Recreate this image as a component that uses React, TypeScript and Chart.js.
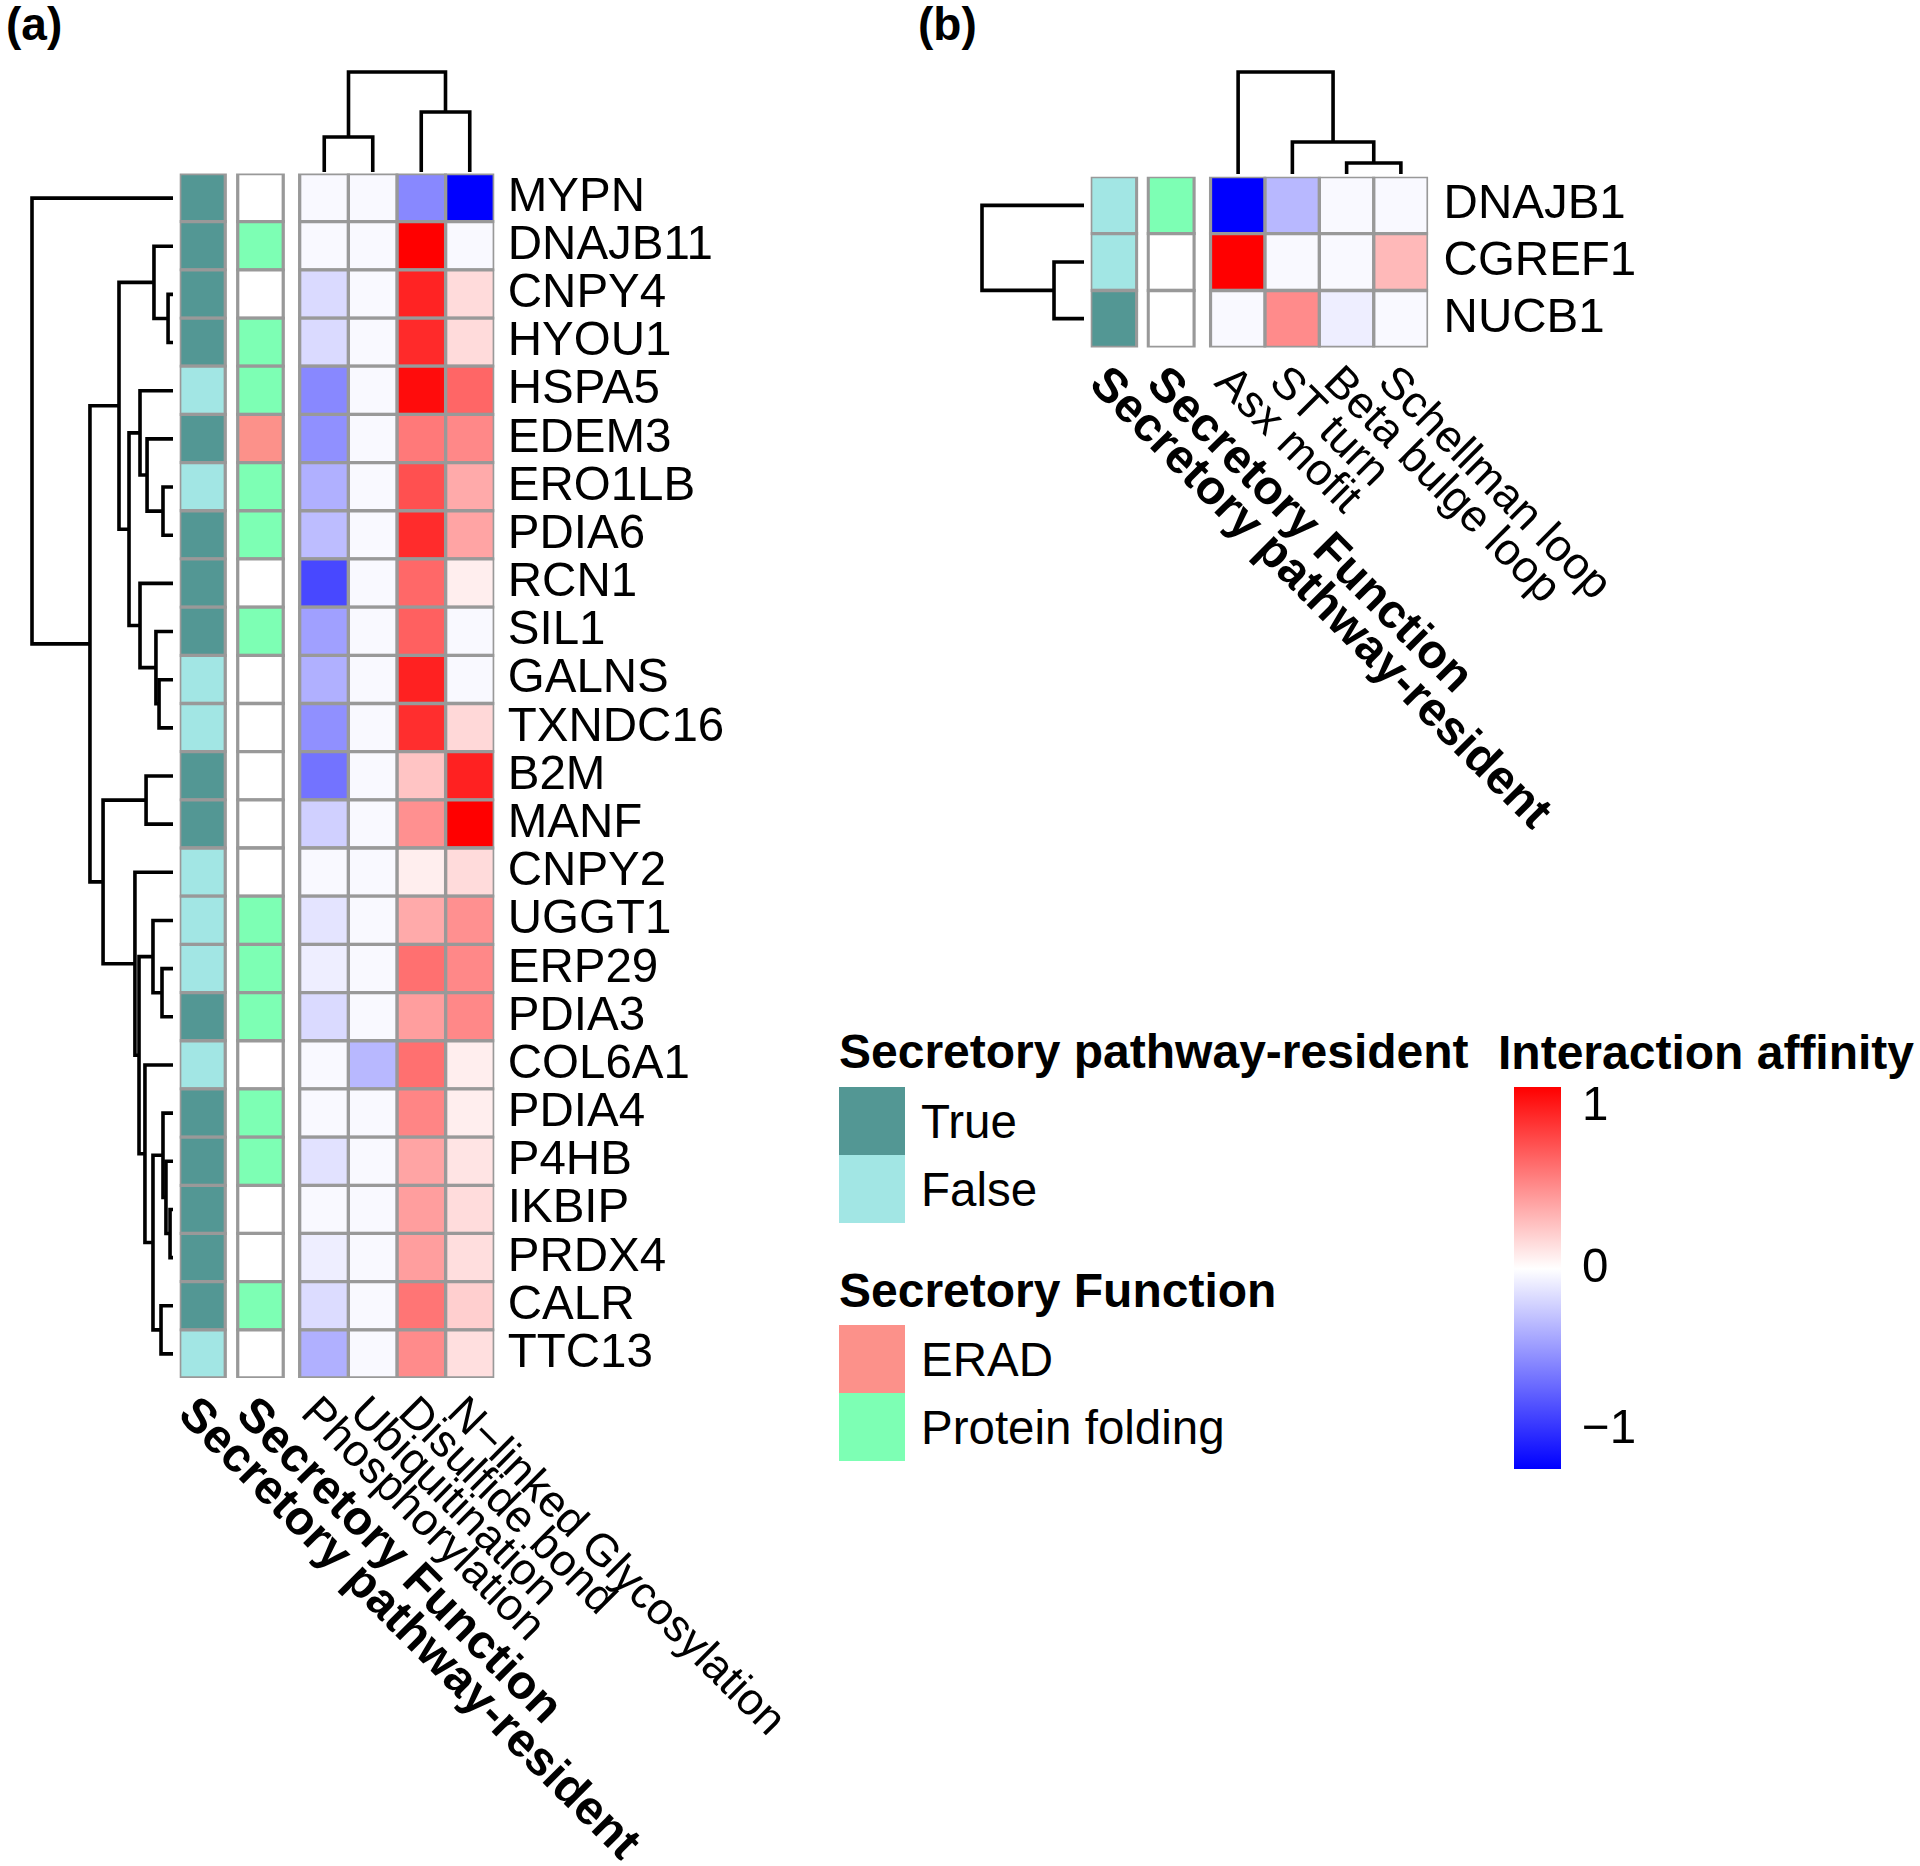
import React, { useEffect, useRef } from 'react';
import { Chart, registerables } from 'chart.js';

Chart.register(...registerables);

const FONT = "'Liberation Sans', Arial, Helvetica, sans-serif";
Chart.defaults.font.family = FONT;
Chart.defaults.color = '#000';

// ---------------- Panel (a) data ----------------
const genesA = ['MYPN', 'DNAJB11', 'CNPY4', 'HYOU1', 'HSPA5', 'EDEM3', 'ERO1LB', 'PDIA6', 'RCN1', 'SIL1', 'GALNS', 'TXNDC16', 'B2M', 'MANF', 'CNPY2', 'UGGT1', 'ERP29', 'PDIA3', 'COL6A1', 'PDIA4', 'P4HB', 'IKBIP', 'PRDX4', 'CALR', 'TTC13'];
const modificationsA = ['Phosphorylation', 'Ubiquitination', 'Disulfide bond', 'N\u2212linked Glycosylation'];
const phosphorylationA = [-0.03, -0.03, -0.18, -0.18, -0.58, -0.54, -0.385, -0.32, -0.89, -0.46, -0.385, -0.54, -0.68, -0.23, -0.03, -0.13, -0.083, -0.18, -0.03, -0.03, -0.14, -0.03, -0.083, -0.17, -0.385];
const ubiquitinationA = [-0.03, -0.03, -0.03, -0.03, -0.03, -0.03, -0.03, -0.03, -0.03, -0.03, -0.03, -0.03, -0.03, -0.03, -0.03, -0.03, -0.03, -0.03, -0.345, -0.03, -0.03, -0.03, -0.03, -0.03, -0.03];
const disulfideA = [-0.58, 1.125, 0.97, 0.94, 1.07, 0.59, 0.77, 0.93, 0.665, 0.7, 0.98, 0.92, 0.26, 0.49, 0.075, 0.375, 0.63, 0.43, 0.63, 0.54, 0.4, 0.43, 0.43, 0.61, 0.51];
const nGlycosylationA = [-1.24, -0.03, 0.16, 0.16, 0.675, 0.525, 0.375, 0.4, 0.075, -0.03, -0.03, 0.17, 0.98, 1.125, 0.16, 0.49, 0.525, 0.525, 0.075, 0.075, 0.12, 0.155, 0.145, 0.21, 0.14];
const residentA = ['True', 'True', 'True', 'True', 'False', 'True', 'False', 'True', 'True', 'True', 'False', 'False', 'True', 'True', 'False', 'False', 'False', 'True', 'False', 'True', 'True', 'True', 'True', 'True', 'False'];
const functionA = ['', 'Protein folding', '', 'Protein folding', 'Protein folding', 'ERAD', 'Protein folding', 'Protein folding', '', 'Protein folding', '', '', '', '', '', 'Protein folding', 'Protein folding', 'Protein folding', '', 'Protein folding', 'Protein folding', '', '', 'Protein folding', ''];
// hclust-style merges (negative = leaf index, positive = earlier merge) and merge heights
const rowMergesA: [number, number][] = [[-3, -4], [-2, 1], [-7, -8], [-6, 3], [-5, 4], [-11, -12], [-10, 6], [-9, 7], [5, 8], [2, 9], [-13, -14], [-17, -18], [-16, 12], [-22, -23], [-21, 14], [-20, 15], [-24, -25], [16, 17], [-19, 18], [13, 19], [-15, 20], [11, 21], [10, 22], [-1, 23]];
const rowHeightsA = [0.035, 0.135, 0.071, 0.184, 0.234, 0.099, 0.121, 0.234, 0.312, 0.383, 0.191, 0.078, 0.142, 0.021, 0.05, 0.071, 0.085, 0.142, 0.199, 0.241, 0.27, 0.496, 0.589, 1.0];
const colMergesA: [number, number][] = [[-1, -2], [-3, -4], [1, 2]];
const colHeightsA = [0.35, 0.6, 1.0];

// ---------------- Panel (b) data ----------------
const genesB = ['DNAJB1', 'CGREF1', 'NUCB1'];
const motifsB = ['Asx mofit', 'ST turn', 'Beta bulge loop', 'Schellman loop'];
const asxMotifB = [-1.24, 1.125, -0.03];
const stTurnB = [-0.345, -0.03, 0.51];
const betaBulgeB = [-0.03, -0.03, -0.083];
const schellmanB = [-0.03, 0.31, -0.03];
const residentB = ['False', 'False', 'True'];
const functionB = ['Protein folding', '', ''];
const rowMergesB: [number, number][] = [[-2, -3], [-1, 1]];
const rowHeightsB = [0.294, 1.0];
const colMergesB: [number, number][] = [[-3, -4], [-2, 1], [-1, 2]];
const colHeightsB = [0.108, 0.314, 1.0];

// ---------------- Legends ----------------
const residentLevels = ['True', 'False'];
const functionLevels = ['ERAD', 'Protein folding'];
const affinityTicks = [-1, 0, 1];

// ---------------- Styles ----------------
const residentColors: Record<string, string> = { True: '#539794', False: '#A2E6E4' };
const functionColors: Record<string, string> = { ERAD: '#FC918A', 'Protein folding': '#7DFFB4' };
const NA_COLOR = '#FFFFFF';
const CELL_BORDER = '#999999';
const DENDRO_LW = 3.6;
const FS = 47.5; // regular text size
const FSB = 48; // bold text size
const FS_COL = 45; // rotated column labels

const allValues = [...phosphorylationA, ...ubiquitinationA, ...disulfideA, ...nGlycosylationA, ...asxMotifB, ...stTurnB, ...betaBulgeB, ...schellmanB];
const COLOR_LO = Math.min(...allValues);
const COLOR_HI = Math.max(...allValues);

function heatColor(v: number): string {
  if (v >= 0) {
    const t = Math.min(1, v / COLOR_HI);
    const c = Math.round(255 * (1 - t));
    return `rgb(255,${c},${c})`;
  }
  const t = Math.min(1, v / COLOR_LO);
  const c = Math.round(255 * (1 - t));
  return `rgb(${c},${c},255)`;
}

type Col = { label?: string; bold?: boolean; width: number; colors?: string[] };
type HeatLayout = {
  canvasLeft: number; canvasTop: number; canvasW: number; canvasH: number;
  areaLeft: number; areaTop: number; unit: number; rowH: number;
  annotW: number; gap1: number; gap2: number; labelPad: number; labelGap: number;
};

const LAYOUT_A: HeatLayout = {
  canvasLeft: 150, canvasTop: 150, canvasW: 680, canvasH: 1716,
  areaLeft: 179.7, areaTop: 173.5, unit: 48.65, rowH: 48.18,
  annotW: 0.937, gap1: 0.255, gap2: 0.337, labelPad: 13.5, labelGap: 12,
};
const LAYOUT_B: HeatLayout = {
  canvasLeft: 1060, canvasTop: 150, canvasW: 860, canvasH: 720,
  areaLeft: 1090.7, areaTop: 176.7, unit: 54.4, rowH: 56.9,
  annotW: 0.846, gap1: 0.21, gap2: 0.30, labelPad: 15.5, labelGap: 12,
};

function buildCols(L: HeatLayout, resident: string[], func: string[], names: string[], matrix: number[][]): Col[] {
  return [
    { label: 'Secretory pathway-resident', bold: true, width: L.annotW, colors: resident.map((v) => residentColors[v] ?? NA_COLOR) },
    { width: L.gap1 },
    { label: 'Secretory Function', bold: true, width: L.annotW, colors: func.map((v) => functionColors[v] ?? NA_COLOR) },
    { width: L.gap2 },
    ...names.map((n, j) => ({ label: n, width: 1, colors: matrix[j].map(heatColor) })),
  ];
}

function heatmapConfig(genes: string[], cols: Col[], L: HeatLayout): any {
  const total = cols.reduce((s, c) => s + c.width, 0);
  const areaW = total * L.unit;
  const areaH = genes.length * L.rowH;
  const padLeft = L.areaLeft - L.canvasLeft;
  const padTop = L.areaTop - L.canvasTop;
  const padBottom = L.canvasTop + L.canvasH - (L.areaTop + areaH);
  const axisW = L.canvasW - padLeft - areaW;
  const starts: number[] = [];
  let acc = 0;
  cols.forEach((c) => { starts.push(acc); acc += c.width; });

  const labelPlugin = {
    id: 'columnLabels',
    afterDraw(chart: any) {
      const ctx = chart.ctx;
      const xs = chart.scales.x;
      const y0 = chart.chartArea.bottom + L.labelGap;
      cols.forEach((c, i) => {
        if (!c.label) return;
        const x = xs.getPixelForValue(starts[i] + c.width / 2);
        ctx.save();
        ctx.translate(x, y0);
        ctx.rotate(Math.PI / 4);
        ctx.font = `${c.bold ? 'bold ' : ''}${c.bold ? FSB : FS_COL}px ${FONT}`;
        ctx.fillStyle = '#000';
        ctx.textAlign = 'left';
        ctx.textBaseline = 'top';
        ctx.fillText(c.label, 0, 0);
        ctx.restore();
      });
    },
  };

  return {
    type: 'bar',
    data: {
      labels: genes,
      datasets: cols.map((c) =>
        c.colors
          ? {
              data: genes.map(() => c.width),
              backgroundColor: c.colors,
              borderColor: CELL_BORDER,
              borderWidth: 3.3,
              inflateAmount: 1.65,
              borderSkipped: false,
              categoryPercentage: 1,
              barPercentage: 1,
            }
          : {
              data: genes.map(() => c.width),
              backgroundColor: 'rgba(0,0,0,0)',
              borderWidth: 0,
              inflateAmount: 0,
              categoryPercentage: 1,
              barPercentage: 1,
            }
      ),
    },
    options: {
      indexAxis: 'y',
      animation: false,
      responsive: false,
      events: [],
      layout: { padding: { left: padLeft, top: padTop, bottom: padBottom, right: 0 } },
      plugins: { legend: { display: false }, tooltip: { enabled: false } },
      scales: {
        x: { type: 'linear', stacked: true, min: 0, max: total, display: false },
        y: {
          type: 'category',
          stacked: true,
          position: 'right',
          grid: { display: false, drawTicks: false },
          border: { display: false },
          ticks: { color: '#000', font: { size: FS, family: FONT }, padding: L.labelPad, autoSkip: false },
          afterFit: (s: any) => { s.width = axisW; s.paddingTop = 0; s.paddingBottom = 0; },
        },
      },
    },
    plugins: [labelPlugin],
  };
}

type Area = { left: number; right: number; top: number; bottom: number };
const DENDRO_MARGIN = 10;

function dendroSegments(merges: [number, number][], heights: number[]) {
  const pos: number[] = [];
  const hts: number[] = [];
  const segs: [number, number][][] = [];
  merges.forEach(([a, b], i) => {
    const pa = a < 0 ? -a : pos[a - 1];
    const ha = a < 0 ? 0 : hts[a - 1];
    const pb = b < 0 ? -b : pos[b - 1];
    const hb = b < 0 ? 0 : hts[b - 1];
    const h = heights[i];
    segs.push([[pa, ha], [pa, h], [pb, h], [pb, hb]]);
    pos[i] = (pa + pb) / 2;
    hts[i] = h;
  });
  return segs;
}

function dendroConfig(merges: [number, number][], heights: number[], nLeaves: number, orient: 'row' | 'col'): any {
  const segs = dendroSegments(merges, heights);
  const hMax = Math.max(...heights);
  const isRow = orient === 'row';
  return {
    type: 'scatter',
    data: {
      datasets: segs.map((s) => ({
        data: s.map(([p, h]) => (isRow ? { x: h, y: p } : { x: p, y: h })),
        showLine: true,
        borderColor: '#000',
        borderWidth: DENDRO_LW,
        pointRadius: 0,
        tension: 0,
        clip: false,
        borderJoinStyle: 'miter',
      })),
    },
    options: {
      animation: false,
      responsive: false,
      events: [],
      layout: { padding: DENDRO_MARGIN },
      plugins: { legend: { display: false }, tooltip: { enabled: false } },
      scales: isRow
        ? {
            x: { type: 'linear', min: 0, max: hMax, reverse: true, display: false },
            y: { type: 'linear', min: 0.5, max: nLeaves + 0.5, reverse: true, display: false },
          }
        : {
            x: { type: 'linear', min: 0.5, max: nLeaves + 0.5, display: false },
            y: { type: 'linear', min: 0, max: hMax, display: false },
          },
    },
  };
}

function colorbarConfig(area: Area, canvas: { left: number; top: number; width: number; height: number }): any {
  const axisW = canvas.width - (area.left - canvas.left) - (area.right - area.left);
  return {
    type: 'bar',
    data: {
      labels: ['Interaction affinity'],
      datasets: [
        {
          data: [[COLOR_LO, COLOR_HI]],
          borderWidth: 0,
          inflateAmount: 0,
          categoryPercentage: 1,
          barPercentage: 1,
          backgroundColor: (ctx: any) => {
            const chart = ctx.chart;
            const ys = chart.scales?.y;
            if (!chart.chartArea || !ys) return 'rgba(0,0,0,0)';
            const yTop = ys.getPixelForValue(COLOR_HI);
            const yBot = ys.getPixelForValue(COLOR_LO);
            const g = chart.ctx.createLinearGradient(0, yTop, 0, yBot);
            g.addColorStop(0, heatColor(COLOR_HI));
            g.addColorStop(COLOR_HI / (COLOR_HI - COLOR_LO), heatColor(0));
            g.addColorStop(1, heatColor(COLOR_LO));
            return g;
          },
        },
      ],
    },
    options: {
      animation: false,
      responsive: false,
      events: [],
      layout: {
        padding: {
          left: area.left - canvas.left,
          top: area.top - canvas.top,
          bottom: canvas.top + canvas.height - area.bottom,
          right: 0,
        },
      },
      plugins: { legend: { display: false }, tooltip: { enabled: false } },
      scales: {
        x: { display: false },
        y: {
          type: 'linear',
          position: 'right',
          min: COLOR_LO,
          max: COLOR_HI,
          grid: { display: false, drawTicks: false },
          border: { display: false },
          afterBuildTicks: (s: any) => { s.ticks = affinityTicks.map((v) => ({ value: v })); },
          ticks: {
            color: '#000',
            font: { size: FS, family: FONT },
            padding: 21,
            callback: (v: any) => (Number(v) < 0 ? '\u2212' + Math.abs(Number(v)) : String(v)),
          },
          afterFit: (s: any) => { s.width = axisW; s.paddingTop = 0; s.paddingBottom = 0; },
        },
      },
    },
  };
}

function ChartBox({ left, top, width, height, make }: { left: number; top: number; width: number; height: number; make: () => any }) {
  const ref = useRef<HTMLCanvasElement>(null);
  useEffect(() => {
    if (!ref.current) return;
    const chart = new Chart(ref.current, make());
    return () => chart.destroy();
  }, []);
  return (
    <canvas
      ref={ref}
      width={width}
      height={height}
      style={{ position: 'absolute', left, top, width, height, display: 'block' }}
    />
  );
}

function DendroBox({ area, merges, heights, nLeaves, orient }: { area: Area; merges: [number, number][]; heights: number[]; nLeaves: number; orient: 'row' | 'col' }) {
  const m = DENDRO_MARGIN;
  return (
    <ChartBox
      left={area.left - m}
      top={area.top - m}
      width={area.right - area.left + 2 * m}
      height={area.bottom - area.top + 2 * m}
      make={() => dendroConfig(merges, heights, nLeaves, orient)}
    />
  );
}

// Text positioned by its baseline
function Txt({ x, baseline, size, bold, children }: { x: number; baseline: number; size: number; bold?: boolean; children: React.ReactNode }) {
  const top = baseline - (size * 0.905 + (size - size * 1.117) / 2);
  return (
    <div
      style={{
        position: 'absolute',
        left: x,
        top,
        fontFamily: FONT,
        fontSize: size,
        lineHeight: `${size}px`,
        fontWeight: bold ? 'bold' : 'normal',
        whiteSpace: 'nowrap',
        color: '#000',
      }}
    >
      {children}
    </div>
  );
}

function Swatch({ x, y, w, h, color }: { x: number; y: number; w: number; h: number; color: string }) {
  return <div style={{ position: 'absolute', left: x, top: y, width: w, height: h, background: color }} />;
}

export default function App() {
  const colsA = buildCols(LAYOUT_A, residentA, functionA, modificationsA, [phosphorylationA, ubiquitinationA, disulfideA, nGlycosylationA]);
  const colsB = buildCols(LAYOUT_B, residentB, functionB, motifsB, [asxMotifB, stTurnB, betaBulgeB, schellmanB]);

  const hmA = { left: 299.7, right: 494.3 };
  const hmB = { left: 1210.7, right: 1428.3 };
  const rowsA = { top: LAYOUT_A.areaTop, bottom: LAYOUT_A.areaTop + genesA.length * LAYOUT_A.rowH };
  const rowsB = { top: LAYOUT_B.areaTop, bottom: LAYOUT_B.areaTop + genesB.length * LAYOUT_B.rowH };

  const swX = 839, swW = 66, swH = 68;
  const labX = 921;
  const capMid = FS * 0.358;

  return (
    <div style={{ position: 'absolute', left: 0, top: 0, width: 1920, height: 1866, background: '#fff', overflow: 'hidden' }}>
      <Txt x={6} baseline={40} size={46} bold>(a)</Txt>
      <Txt x={918} baseline={40} size={46} bold>(b)</Txt>

      {/* Panel (a) */}
      <ChartBox left={LAYOUT_A.canvasLeft} top={LAYOUT_A.canvasTop} width={LAYOUT_A.canvasW} height={LAYOUT_A.canvasH} make={() => heatmapConfig(genesA, colsA, LAYOUT_A)} />
      <DendroBox area={{ left: 32, right: 173, top: rowsA.top, bottom: rowsA.bottom }} merges={rowMergesA} heights={rowHeightsA} nLeaves={genesA.length} orient="row" />
      <DendroBox area={{ left: hmA.left, right: hmA.right, top: 72, bottom: 172 }} merges={colMergesA} heights={colHeightsA} nLeaves={modificationsA.length} orient="col" />

      {/* Panel (b) */}
      <ChartBox left={LAYOUT_B.canvasLeft} top={LAYOUT_B.canvasTop} width={LAYOUT_B.canvasW} height={LAYOUT_B.canvasH} make={() => heatmapConfig(genesB, colsB, LAYOUT_B)} />
      <DendroBox area={{ left: 982, right: 1084, top: rowsB.top, bottom: rowsB.bottom }} merges={rowMergesB} heights={rowHeightsB} nLeaves={genesB.length} orient="row" />
      <DendroBox area={{ left: hmB.left, right: hmB.right, top: 72, bottom: 174 }} merges={colMergesB} heights={colHeightsB} nLeaves={motifsB.length} orient="col" />

      {/* Legend: Secretory pathway-resident */}
      <Txt x={839} baseline={1069} size={FSB} bold>Secretory pathway-resident</Txt>
      {residentLevels.map((lv, i) => (
        <React.Fragment key={lv}>
          <Swatch x={swX} y={1087 + i * swH} w={swW} h={swH} color={residentColors[lv]} />
          <Txt x={labX} baseline={1087 + i * swH + swH / 2 + capMid} size={FS}>{lv}</Txt>
        </React.Fragment>
      ))}

      {/* Legend: Secretory Function */}
      <Txt x={839} baseline={1308} size={FSB} bold>Secretory Function</Txt>
      {functionLevels.map((lv, i) => (
        <React.Fragment key={lv}>
          <Swatch x={swX} y={1325 + i * swH} w={swW} h={swH} color={functionColors[lv]} />
          <Txt x={labX} baseline={1325 + i * swH + swH / 2 + capMid} size={FS}>{lv}</Txt>
        </React.Fragment>
      ))}

      {/* Legend: Interaction affinity */}
      <Txt x={1498} baseline={1070} size={FSB} bold>Interaction affinity</Txt>
      <ChartBox
        left={1490}
        top={1060}
        width={420}
        height={440}
        make={() => colorbarConfig({ left: 1514, right: 1561, top: 1087, bottom: 1469 }, { left: 1490, top: 1060, width: 420, height: 440 })}
      />
    </div>
  );
}
